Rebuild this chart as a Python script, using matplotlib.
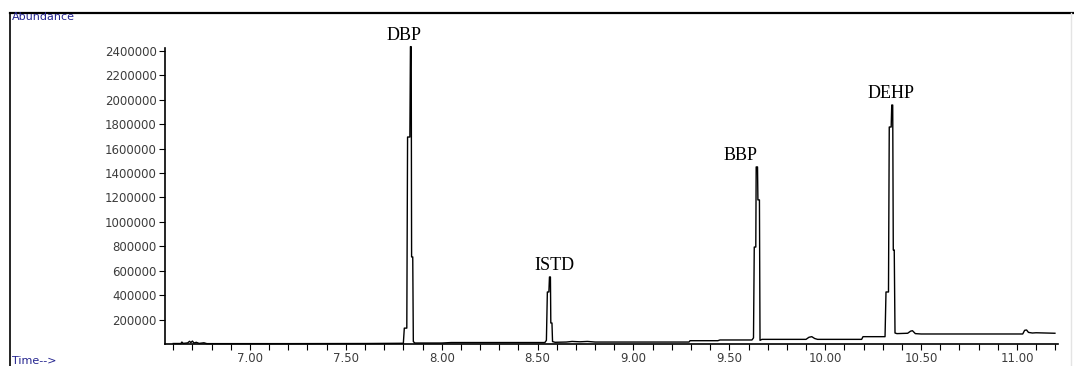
import numpy as np
import matplotlib
matplotlib.use("Agg")
import matplotlib.pyplot as plt
from matplotlib.lines import Line2D
from matplotlib.ticker import MultipleLocator, FixedLocator

# ── Chromatogram trace (retention time in min, abundance in counts) ──────────
rt_min = [
    6.600, 6.640, 6.645, 6.652, 6.675, 6.685, 6.692, 6.700, 6.708, 6.720,
    6.735, 6.760, 6.775, 7.200, 7.600, 7.800,
    # DBP
    7.805, 7.818, 7.822, 7.834, 7.837, 7.841, 7.843, 7.849, 7.852, 7.860,
    8.000, 8.050, 8.500, 8.538,
    # ISTD
    8.546, 8.551, 8.559, 8.562, 8.567, 8.569, 8.575, 8.578, 8.591,
    8.650, 8.680, 8.720, 8.760, 8.800, 9.290, 9.295, 9.440, 9.451, 9.618,
    # BBP
    9.626, 9.630, 9.638, 9.640, 9.647, 9.649, 9.657, 9.660, 9.670,
    9.900, 9.915, 9.930, 9.945, 9.960, 10.190, 10.197, 10.312,
    # DEHP
    10.317, 10.330, 10.334, 10.344, 10.347, 10.352, 10.355, 10.360, 10.364,
    10.374,
    10.430, 10.445, 10.455, 10.470, 10.500, 11.030, 11.040, 11.050, 11.060,
    11.080, 11.100, 11.198,
]
abundance = [
    4000, 4000, 16000, 5000, 9000, 22000, 12000, 24000, 8000, 14000,
    5000, 10000, 3000, 3000, 4000, 6000,
    130000, 130000, 1695000, 1695000, 2435000, 2435000, 713000, 713000,
    20000, 8000,
    8000, 12000, 12000, 12000,
    30000, 426000, 426000, 549000, 549000, 172000, 172000, 20000, 14000,
    16000, 21000, 18000, 21000, 16000, 16000, 27000, 27000, 33000, 33000,
    50000, 794000, 794000, 1450000, 1450000, 1180000, 1180000, 30000, 38000,
    38000, 55000, 60000, 45000, 38000, 38000, 60000, 60000,
    426000, 426000, 1777000, 1777000, 1957000, 1957000, 770000, 770000,
    90000, 85000,
    88000, 105000, 109000, 85000, 82000, 82000, 112000, 115000, 95000,
    90000, 92000, 88000,
]

# ── Peak labels ───────────────────────────────────────────────────────────────
peak_names = ["DBP", "ISTD", "BBP", "DEHP"]
peak_rt = [7.839, 8.564, 9.643, 10.349]

y_ticks = list(range(200000, 2400001, 200000))
x_ticks = [7.00, 7.50, 8.00, 8.50, 9.00, 9.50, 10.00, 10.50, 11.00]

# ── styling ───────────────────────────────────────────────────────────────────
W, H = 1074, 366
NAVY = "#23238e"
TICK_C = "#3c3c3c"
label_dx = {"DBP": -5, "ISTD": 3, "BBP": -12, "DEHP": -1}   # offset points

fig = plt.figure(figsize=(W / 100, H / 100), dpi=100, facecolor="white")
ax = fig.add_axes([165 / W, 22 / H, (1058 - 165) / W, (344 - 48) / H])

ax.plot(rt_min, abundance, color="black", lw=1.0, clip_on=False, zorder=3)

ax.set_xlim(6.557, 11.214)
ax.set_ylim(0, 2424000)

for side in ("top", "right"):
    ax.spines[side].set_visible(False)
for side in ("left", "bottom"):
    ax.spines[side].set_linewidth(1.2)

ax.yaxis.set_major_locator(FixedLocator(y_ticks))
ax.set_yticklabels([str(v) for v in y_ticks])
ax.xaxis.set_major_locator(FixedLocator(x_ticks))
ax.set_xticklabels([f"{v:.2f}" for v in x_ticks])
ax.xaxis.set_minor_locator(MultipleLocator(0.1))

ax.tick_params(axis="both", which="both", direction="out", length=4,
               width=0.8, color="black", labelsize=8.5, labelcolor=TICK_C,
               pad=2)
ax.tick_params(axis="x", which="minor", length=4)

# peak labels just above each apex
t_arr = np.array(rt_min)
a_arr = np.array(abundance)
for name, rt in zip(peak_names, peak_rt):
    win = np.abs(t_arr - rt) < 0.02
    top = a_arr[win].max()
    ax.annotate(name, (rt, top), xytext=(label_dx[name], 2),
                textcoords="offset points", ha="center", va="bottom",
                family="Liberation Serif", fontsize=13, color="black",
                annotation_clip=False)

# outer frame of the report page
fig.add_artist(Line2D([10 / W, 1], [1 - 13 / H] * 2, transform=fig.transFigure,
                      color="black", lw=1.6))
fig.add_artist(Line2D([10 / W] * 2, [0, 1 - 13 / H], transform=fig.transFigure,
                      color="black", lw=1.2))
fig.add_artist(Line2D([1071 / W] * 2, [0, 1 - 13 / H], transform=fig.transFigure,
                      color="#e4e4e4", lw=1.0))

fig.text(12 / W, 1 - 17 / H, "Abundance", color=NAVY, fontsize=8, va="center")
fig.text(12 / W, 1 - 361 / H, "Time-->", color=NAVY, fontsize=8, va="center")

fig.savefig("out.png", dpi=100, facecolor="white")
